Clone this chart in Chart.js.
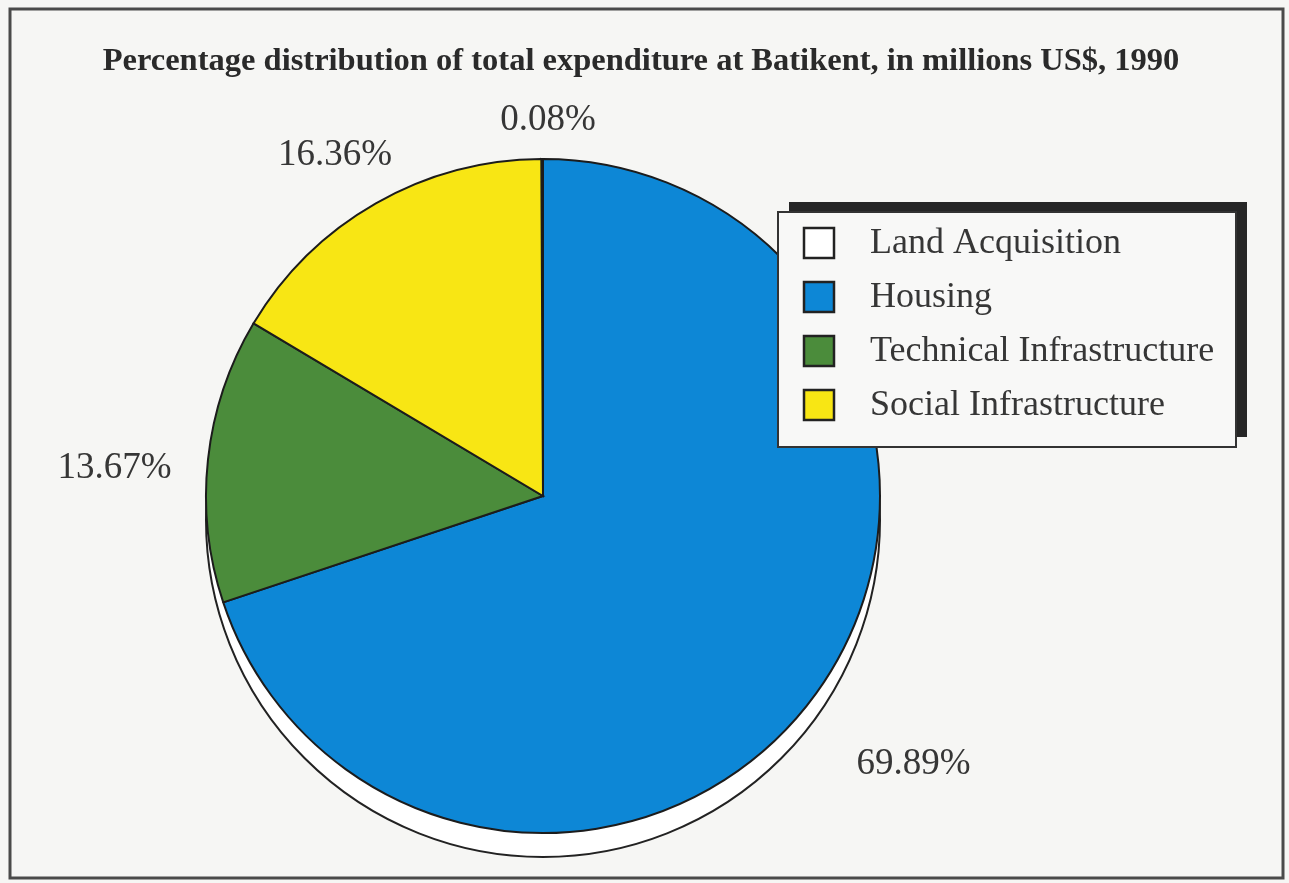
<!DOCTYPE html>
<html>
<head>
<meta charset="utf-8">
<title>Batikent expenditure 1990</title>
<script src="https://cdn.jsdelivr.net/npm/chart.js@4.4.1/dist/chart.umd.min.js"></script>
<style>
    html, body { margin: 0; padding: 0; background: #f6f6f4; }
    canvas { display: block; }
</style>
</head>
<body>
<canvas id="pieChart" width="1289" height="883"></canvas>
<script>
// data
var categories = ["Land Acquisition", "Housing", "Technical Infrastructure", "Social Infrastructure"];
var shares = [0.08, 69.89, 13.67, 16.36];
var shareLabels = ["0.08%", "69.89%", "13.67%", "16.36%"];
var chartTitle = "Percentage distribution of total expenditure at Batikent, in millions US$, 1990";

var sliceColors = ["#ffffff", "#0d87d6", "#4b8c3b", "#f8e614"];
var textColor = "#363636";
// how far out each percentage sits (share of radius) plus a small nudge in px
var labelDistance = [1.125, 1.356, 1.279, 1.19];
var labelNudge = [[6, 3], [0, 1], [0, 19], [-9, 8]];

var total = shares.reduce(function (a, b) { return a + b; }, 0);

var paperPlugin = {
    id: "paper",
    beforeDraw: function (chart) {
        var c = chart.ctx;
        c.save();
        c.fillStyle = "#f6f6f4";
        c.fillRect(0, 0, chart.width, chart.height);
        c.strokeStyle = "#4a4a4a";
        c.lineWidth = 3;
        c.strokeRect(10, 9, 1273, 869);
        c.fillStyle = "#2a2a2a";
        c.font = "bold 32.5px 'Liberation Serif', 'Times New Roman', serif";
        c.textAlign = "center";
        c.textBaseline = "middle";
        c.fillText(chartTitle, 641, 62);
        c.restore();
    },
    beforeDatasetsDraw: function (chart) {
        // raised edge under the pie
        var arc = chart.getDatasetMeta(0).data[0];
        var c = chart.ctx;
        c.save();
        c.beginPath();
        c.arc(arc.x, arc.y + 24, arc.outerRadius, 0, Math.PI * 2);
        c.fillStyle = "#ffffff";
        c.fill();
        c.lineWidth = 2;
        c.strokeStyle = "#222222";
        c.stroke();
        c.restore();
    },
    afterDatasetsDraw: function (chart) {
        var c = chart.ctx;
        var arcs = chart.getDatasetMeta(0).data;
        c.save();
        c.fillStyle = textColor;
        c.font = "37px 'Liberation Serif', 'Times New Roman', serif";
        c.textAlign = "center";
        c.textBaseline = "middle";
        arcs.forEach(function (arc, i) {
            var mid = (arc.startAngle + arc.endAngle) / 2;
            var d = arc.outerRadius * labelDistance[i];
            c.fillText(shareLabels[i],
                arc.x + Math.cos(mid) * d + labelNudge[i][0],
                arc.y + Math.sin(mid) * d + labelNudge[i][1]);
        });

        // legend box with its dark drop edge
        var bx = 778, by = 212, bw = 458, bh = 235;
        c.fillStyle = "#262626";
        c.fillRect(bx + 11, by - 10, bw, bh);
        c.fillStyle = "#f8f8f7";
        c.fillRect(bx, by, bw, bh);
        c.lineWidth = 2;
        c.strokeStyle = "#333333";
        c.strokeRect(bx, by, bw, bh);

        c.textAlign = "left";
        c.font = "36px 'Liberation Serif', 'Times New Roman', serif";
        categories.forEach(function (name, i) {
            var cy = by + 31 + i * 54;
            c.fillStyle = sliceColors[i];
            c.fillRect(bx + 26, cy - 15, 30, 30);
            c.lineWidth = 2.5;
            c.strokeStyle = "#222222";
            c.strokeRect(bx + 26, cy - 15, 30, 30);
            c.fillStyle = textColor;
            c.fillText(name, bx + 92, cy + 1);
        });
        c.restore();
    }
};

new Chart(document.getElementById("pieChart").getContext("2d"), {
    type: "pie",
    data: {
        labels: categories,
        datasets: [
            {
                data: shares,
                backgroundColor: sliceColors,
                borderColor: "#1c1c1c",
                borderWidth: 2,
                borderJoinStyle: "miter"
            }
        ]
    },
    options: {
        responsive: false,
        animation: false,
        rotation: -shares[0] / total * 360,
        layout: {
            padding: { top: 158, bottom: 49, left: 0, right: 203 }
        },
        plugins: {
            legend: { display: false },
            title: { display: false },
            tooltip: { enabled: false }
        }
    },
    plugins: [paperPlugin]
});
</script>
</body>
</html>
